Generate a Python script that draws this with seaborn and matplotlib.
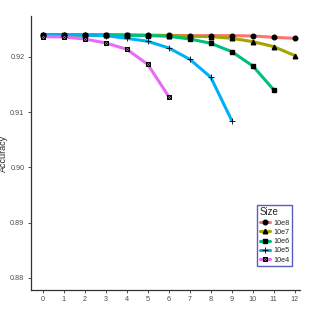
#!/usr/bin/env python3
import matplotlib
matplotlib.use("Agg")
import matplotlib.pyplot as plt
from matplotlib.lines import Line2D
import pandas as pd
import seaborn as sns

# values
sizes = ["10e8", "10e7", "10e6", "10e5", "10e4"]
acc_10e8 = [0.92398, 0.92398, 0.92398, 0.92398, 0.92398, 0.92392, 0.92392, 0.92386,
            0.92386, 0.92386, 0.92380, 0.92355, 0.92337]
acc_10e7 = [0.92398, 0.92398, 0.92398, 0.92398, 0.92398, 0.92392, 0.92386, 0.92374,
            0.92367, 0.92337, 0.92277, 0.92187, 0.92024]
acc_10e6 = [0.92398, 0.92398, 0.92398, 0.92398, 0.92392, 0.92386, 0.92374, 0.92325,
            0.92247, 0.92096, 0.91837, 0.91404]
acc_10e5 = [0.92404, 0.92404, 0.92398, 0.92386, 0.92337, 0.92283, 0.92163, 0.91958,
            0.91633, 0.90849]
acc_10e4 = [0.92367, 0.92361, 0.92325, 0.92253, 0.92139, 0.91867, 0.91283]
y_ticks = [0.88, 0.89, 0.90, 0.91, 0.92]
x_ticks = list(range(13))

series = [acc_10e8, acc_10e7, acc_10e6, acc_10e5, acc_10e4]
colors = ["#F8766D", "#A3A500", "#00BF7D", "#00B0F6", "#E76BF3"]
markers = ["o", "^", "s", "+", "s"]

rows = []
for size, vals in zip(sizes, series):
    for i, v in enumerate(vals):
        rows.append((size, i, v))
df = pd.DataFrame(rows, columns=["Size", "x", "Accuracy"])

sns.set_style("white")
plt.rcParams["font.family"] = ["Liberation Sans", "DejaVu Sans"]

fig = plt.figure(figsize=(3.11, 3.12), dpi=100)
ax = fig.add_axes([0.0987, 0.0705, 0.866, 0.878])

LW = 2.2
handles = []
for size, col, mk in zip(sizes, colors, markers):
    sub = df[df["Size"] == size]
    sns.lineplot(data=sub, x="x", y="Accuracy", color=col, lw=LW, ax=ax,
                 legend=False, zorder=2)
    if size == "10e4":
        ax.plot(sub["x"], sub["Accuracy"], ls="none", marker="s", ms=3.4,
                mfc="#bbbbbb", mec="black", mew=0.7, zorder=3)
        ax.plot(sub["x"], sub["Accuracy"], ls="none", marker="x", ms=2.6,
                mec="black", mew=0.6, zorder=4)
        h = (Line2D([], [], color=col, lw=LW, marker="s", ms=3.4, mfc="#bbbbbb",
                    mec="black", mew=0.7),
             Line2D([], [], ls="none", marker="x", ms=2.6, mec="black", mew=0.6))
    elif mk == "+":
        ax.plot(sub["x"], sub["Accuracy"], ls="none", marker="+", ms=5,
                mec="black", mew=0.6, zorder=3)
        h = Line2D([], [], color=col, lw=LW, marker="+", ms=5, mec="black", mew=0.6)
    else:
        ax.plot(sub["x"], sub["Accuracy"], ls="none", marker=mk, ms=3.3,
                mfc="black", mec="black", zorder=3)
        h = Line2D([], [], color=col, lw=LW, marker=mk, ms=3.3, mfc="black", mec="black")
    handles.append(h)

ax.set_xlim(-0.57, 12.25)
ax.set_ylim(0.8778, 0.9274)
ax.set_xticks(x_ticks)
ax.set_xticklabels([str(t) for t in x_ticks])
ax.set_yticks(y_ticks)
ax.set_yticklabels([f"{t:.2f}" for t in y_ticks])
ax.set_xlabel("")
ax.set_ylabel("Accuracy", fontsize=6.5)
ax.yaxis.set_label_coords(-0.085, 0.5)
ax.tick_params(axis="both", which="both", direction="out", length=2.5, width=0.6,
               color="#333333", labelsize=5.2, labelcolor="#4D4D4D", pad=2,
               bottom=True, left=True)
for s in ["top", "right"]:
    ax.spines[s].set_visible(False)
for s in ["left", "bottom"]:
    ax.spines[s].set_color("#333333")
    ax.spines[s].set_linewidth(0.9)

leg = ax.legend(handles, sizes, title="Size", loc="lower right",
                bbox_to_anchor=(0.985, 0.073), fontsize=5.2, title_fontsize=7,
                frameon=True, fancybox=False, handlelength=1.5, handletextpad=0.4,
                labelspacing=0.3, borderpad=0.4)
leg._legend_box.align = "left"
leg.get_frame().set_edgecolor("#3333AA")
leg.get_frame().set_linewidth(1.0)

fig.savefig("out.png", dpi=100)
